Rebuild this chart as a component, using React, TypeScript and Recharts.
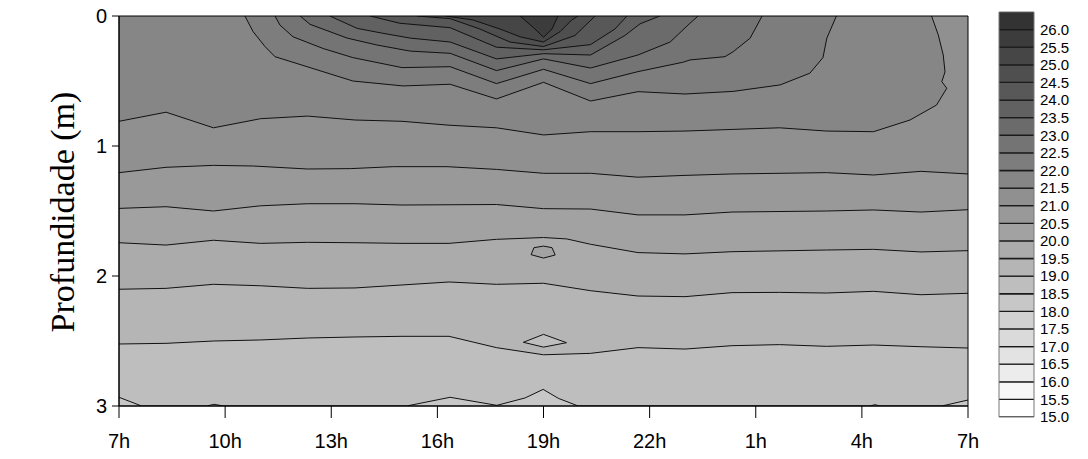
import React from "react";
import { ComposedChart, Area, XAxis, YAxis, CartesianGrid, ReferenceArea } from "recharts";

// time axis: hours after 07:00, labelled with clock hours
const hourTicks = [0, 3, 6, 9, 12, 15, 18, 21, 24];
const hourLabels = ["7h", "10h", "13h", "16h", "19h", "22h", "1h", "4h", "7h"];
const depthTicks = [0, 1, 2, 3];

// isotherm levels shown in the legend and the grey shade of the band above each one
const levels = [15.0, 15.5, 16.0, 16.5, 17.0, 17.5, 18.0, 18.5, 19.0, 19.5, 20.0, 20.5, 21.0, 21.5, 22.0, 22.5, 23.0, 23.5, 24.0, 24.5, 25.0, 25.5, 26.0];
const shades = ["#FFFFFF", "#F6F6F6", "#ECECEC", "#E3E3E3", "#DADADA", "#D1D1D1", "#C7C7C7", "#BEBEBE", "#B5B5B5", "#ABABAB", "#A2A2A2", "#999999", "#909090", "#868686", "#7D7D7D", "#747474", "#6B6B6B", "#616161", "#585858", "#4F4F4F", "#464646", "#3C3C3C", "#333333"];

// isotherm depth (m) along time (h); d = 3 or 0 where the line runs on the frame
const iso185 = [{ t: 0, d: 2.933 }, { t: 0.64, d: 3 }, { t: 2.48, d: 3 }, { t: 2.69, d: 2.987 }, { t: 2.95, d: 3 }, { t: 8.13, d: 3 }, { t: 9.36, d: 2.933 }, { t: 10.68, d: 2.995 }, { t: 11.48, d: 2.938 }, { t: 11.99, d: 2.872 }, { t: 12.42, d: 2.941 }, { t: 12.98, d: 3 }, { t: 21.23, d: 3 }, { t: 21.37, d: 2.99 }, { t: 21.51, d: 3 }, { t: 23.26, d: 3 }, { t: 24, d: 2.954 }];
const iso190 = [{ t: 0, d: 2.523 }, { t: 1.33, d: 2.518 }, { t: 2.67, d: 2.5 }, { t: 4, d: 2.492 }, { t: 5.33, d: 2.477 }, { t: 6.67, d: 2.469 }, { t: 8, d: 2.464 }, { t: 9.33, d: 2.464 }, { t: 10.67, d: 2.551 }, { t: 12, d: 2.606 }, { t: 13.33, d: 2.595 }, { t: 14.67, d: 2.551 }, { t: 16, d: 2.562 }, { t: 17.33, d: 2.536 }, { t: 18.67, d: 2.528 }, { t: 20, d: 2.541 }, { t: 21.33, d: 2.531 }, { t: 22.67, d: 2.544 }, { t: 24, d: 2.554 }];
const iso195 = [{ t: 0, d: 2.102 }, { t: 1.33, d: 2.095 }, { t: 2.67, d: 2.064 }, { t: 4, d: 2.075 }, { t: 5.33, d: 2.095 }, { t: 6.67, d: 2.092 }, { t: 8, d: 2.069 }, { t: 9.33, d: 2.046 }, { t: 10.67, d: 2.064 }, { t: 12, d: 2.056 }, { t: 13.33, d: 2.113 }, { t: 14.67, d: 2.154 }, { t: 16, d: 2.159 }, { t: 17.33, d: 2.128 }, { t: 18.67, d: 2.126 }, { t: 20, d: 2.131 }, { t: 21.33, d: 2.118 }, { t: 22.67, d: 2.144 }, { t: 24, d: 2.133 }];
const iso200 = [{ t: 0, d: 1.744 }, { t: 1.33, d: 1.762 }, { t: 2.67, d: 1.725 }, { t: 4, d: 1.749 }, { t: 5.33, d: 1.741 }, { t: 6.67, d: 1.744 }, { t: 8, d: 1.749 }, { t: 9.33, d: 1.749 }, { t: 10.67, d: 1.718 }, { t: 12, d: 1.704 }, { t: 12.66, d: 1.715 }, { t: 13.33, d: 1.756 }, { t: 14.67, d: 1.82 }, { t: 16, d: 1.83 }, { t: 17.33, d: 1.813 }, { t: 20, d: 1.8 }, { t: 21.33, d: 1.795 }, { t: 22.67, d: 1.815 }, { t: 24, d: 1.805 }];
const iso205 = [{ t: 0, d: 1.48 }, { t: 1.33, d: 1.467 }, { t: 2.67, d: 1.5 }, { t: 4, d: 1.46 }, { t: 5.33, d: 1.444 }, { t: 6.67, d: 1.444 }, { t: 8, d: 1.454 }, { t: 10.67, d: 1.45 }, { t: 12, d: 1.482 }, { t: 13.33, d: 1.485 }, { t: 14.67, d: 1.53 }, { t: 16, d: 1.53 }, { t: 17.33, d: 1.508 }, { t: 20, d: 1.5 }, { t: 21.33, d: 1.492 }, { t: 22.67, d: 1.508 }, { t: 24, d: 1.49 }];
const iso210 = [{ t: 0, d: 1.205 }, { t: 1.33, d: 1.164 }, { t: 2.67, d: 1.149 }, { t: 3.8, d: 1.154 }, { t: 5.33, d: 1.177 }, { t: 6.55, d: 1.174 }, { t: 7.76, d: 1.159 }, { t: 9.27, d: 1.159 }, { t: 10.67, d: 1.18 }, { t: 12, d: 1.21 }, { t: 13.33, d: 1.21 }, { t: 14.67, d: 1.24 }, { t: 16, d: 1.226 }, { t: 17.33, d: 1.215 }, { t: 20, d: 1.205 }, { t: 21.33, d: 1.223 }, { t: 22.67, d: 1.195 }, { t: 24, d: 1.215 }];
const iso215 = [{ t: 0, d: 0.81 }, { t: 1.33, d: 0.74 }, { t: 2.67, d: 0.86 }, { t: 4, d: 0.79 }, { t: 5.33, d: 0.77 }, { t: 6.67, d: 0.8 }, { t: 8, d: 0.81 }, { t: 9.33, d: 0.84 }, { t: 10.67, d: 0.86 }, { t: 12, d: 0.915 }, { t: 13.33, d: 0.89 }, { t: 14.67, d: 0.89 }, { t: 16, d: 0.885 }, { t: 18.67, d: 0.86 }, { t: 20, d: 0.885 }, { t: 21.33, d: 0.89 }, { t: 22.36, d: 0.8 }, { t: 23.11, d: 0.685 }, { t: 23.4, d: 0.556 }, { t: 23.26, d: 0.505 }, { t: 23.35, d: 0.43 }, { t: 23.3, d: 0.3 }, { t: 23.16, d: 0.146 }, { t: 22.97, d: 0 }];
const iso220 = [{ t: 3.56, d: 0 }, { t: 3.79, d: 0.12 }, { t: 4.13, d: 0.236 }, { t: 4.41, d: 0.313 }, { t: 5.4, d: 0.397 }, { t: 6.61, d: 0.5 }, { t: 8.03, d: 0.538 }, { t: 9.36, d: 0.525 }, { t: 10.67, d: 0.638 }, { t: 12, d: 0.51 }, { t: 13.33, d: 0.654 }, { t: 14.67, d: 0.582 }, { t: 16, d: 0.6 }, { t: 17.36, d: 0.58 }, { t: 18.69, d: 0.53 }, { t: 19.53, d: 0.44 }, { t: 19.9, d: 0.32 }, { t: 20.01, d: 0.17 }, { t: 20.28, d: 0 }];
const iso225 = [{ t: 4.41, d: 0 }, { t: 4.55, d: 0.07 }, { t: 4.92, d: 0.16 }, { t: 5.77, d: 0.25 }, { t: 6.61, d: 0.32 }, { t: 8, d: 0.397 }, { t: 9.36, d: 0.39 }, { t: 10.67, d: 0.52 }, { t: 12, d: 0.41 }, { t: 13.33, d: 0.52 }, { t: 14.67, d: 0.428 }, { t: 15.94, d: 0.356 }, { t: 16.14, d: 0.338 }, { t: 17.13, d: 0.313 }, { t: 17.36, d: 0.275 }, { t: 17.84, d: 0.171 }, { t: 18.18, d: 0 }];
const iso230 = [{ t: 5.12, d: 0 }, { t: 5.4, d: 0.064 }, { t: 6.45, d: 0.17 }, { t: 7.29, d: 0.223 }, { t: 8.23, d: 0.27 }, { t: 9.36, d: 0.287 }, { t: 10.67, d: 0.42 }, { t: 12, d: 0.33 }, { t: 13.33, d: 0.4 }, { t: 14.67, d: 0.3 }, { t: 15.58, d: 0.2 }, { t: 16.14, d: 0.056 }, { t: 16.37, d: 0 }];
const iso235 = [{ t: 5.96, d: 0 }, { t: 6.73, d: 0.095 }, { t: 7.46, d: 0.133 }, { t: 8.23, d: 0.17 }, { t: 9.36, d: 0.2 }, { t: 10.67, d: 0.33 }, { t: 12, d: 0.29 }, { t: 13.33, d: 0.3 }, { t: 14.3, d: 0.15 }, { t: 14.73, d: 0.06 }, { t: 15.29, d: 0 }];
const iso240 = [{ t: 7.1, d: 0 }, { t: 7.94, d: 0.056 }, { t: 9.36, d: 0.09 }, { t: 10.67, d: 0.24 }, { t: 12, d: 0.26 }, { t: 13.33, d: 0.22 }, { t: 14.02, d: 0.1 }, { t: 14.36, d: 0 }];
const iso245 = [{ t: 8.42, d: 0 }, { t: 9.36, d: 0.02 }, { t: 10.2, d: 0.1 }, { t: 11.05, d: 0.2 }, { t: 12, d: 0.235 }, { t: 12.89, d: 0.15 }, { t: 13.46, d: 0 }];
const iso250 = [{ t: 9.22, d: 0 }, { t: 10, d: 0.03 }, { t: 10.77, d: 0.1 }, { t: 11.34, d: 0.16 }, { t: 12, d: 0.2 }, { t: 12.47, d: 0.12 }, { t: 12.8, d: 0.03 }, { t: 12.98, d: 0 }];
const iso255 = [{ t: 11.34, d: 0 }, { t: 11.76, d: 0.1 }, { t: 12, d: 0.164 }, { t: 12.24, d: 0.1 }, { t: 12.41, d: 0 }];

// small closed isotherms near 19h: [upper, lower] depth
const pocket200 = [{ t: 11.65, r: [1.836, 1.836] }, { t: 11.73, r: [1.782, 1.842] }, { t: 12, r: [1.77, 1.862] }, { t: 12.24, r: [1.782, 1.845] }, { t: 12.33, r: [1.838, 1.838] }];
const pocket190 = [{ t: 11.43, r: [2.51, 2.51] }, { t: 12, r: [2.449, 2.547] }, { t: 12.65, r: [2.513, 2.513] }];

const isotherms = [
  { level: 18.5, points: iso185 },
  { level: 19.0, points: iso190 },
  { level: 19.5, points: iso195 },
  { level: 20.0, points: iso200 },
  { level: 20.5, points: iso205 },
  { level: 21.0, points: iso210 },
  { level: 21.5, points: iso215 },
  { level: 22.0, points: iso220 },
  { level: 22.5, points: iso225 },
  { level: 23.0, points: iso230 },
  { level: 23.5, points: iso235 },
  { level: 24.0, points: iso240 },
  { level: 24.5, points: iso245 },
  { level: 25.0, points: iso250 },
  { level: 25.5, points: iso255 },
];

const shadeOf = (level: number) => shades[levels.indexOf(level)];

const sans = "'Liberation Sans', Arial, sans-serif";
const LINE = "#111";

function DepthLabel() {
  return (
    <text
      x={62}
      y={212}
      transform="rotate(-90 62 212)"
      textAnchor="middle"
      dominantBaseline="central"
      fontFamily="'Liberation Serif', 'Times New Roman', serif"
      fontSize={34}
      fill="#000"
    >
      Profundidade (m)
    </text>
  );
}

// colour key: one filled box per half-degree band, labelled at the band edges
function Legend() {
  return (
    <ComposedChart width={98} height={459} margin={{ top: 12, right: 0, bottom: 42, left: 9 }}>
      <XAxis type="number" dataKey="x" domain={[0, 1]} hide allowDataOverflow />
      <YAxis
        orientation="right"
        type="number"
        domain={[15, 26.5]}
        ticks={levels}
        interval={0}
        width={54}
        axisLine={false}
        tickLine={false}
        tickSize={0}
        tickMargin={6}
        tickFormatter={(v: number) => v.toFixed(1)}
        tick={{ fill: "#000", fontSize: 15, fontFamily: sans }}
        allowDataOverflow
      />
      {levels.map((lv, i) => (
        <Area
          key={lv}
          data={[{ x: 0, r: [lv, lv + 0.5] }, { x: 1, r: [lv, lv + 0.5] }]}
          dataKey="r"
          type="linear"
          fill={shades[i]}
          fillOpacity={1}
          stroke="#1a1a1a"
          strokeWidth={1.3}
          dot={false}
          activeDot={false}
          isAnimationActive={false}
        />
      ))}
      <ReferenceArea x1={0} x2={1} y1={15} y2={26.5} fill="none" stroke="#777" strokeWidth={1} ifOverflow="visible" />
    </ComposedChart>
  );
}

export default function App() {
  return (
    <div style={{ position: "absolute", left: 0, top: 0, width: 1088, height: 459, background: "#fff" }}>
      <div style={{ position: "absolute", left: 0, top: 0 }}>
        <ComposedChart width={990} height={459} margin={{ top: 16, right: 22, bottom: 0, left: 59 }}>
          <CartesianGrid horizontal={false} vertical={false} fill={shadeOf(18.0)} fillOpacity={1} />
          <XAxis
            type="number"
            dataKey="t"
            domain={[0, 24]}
            ticks={hourTicks}
            interval={0}
            allowDataOverflow
            height={53}
            stroke="#000"
            tickSize={12}
            tickMargin={16}
            tickFormatter={(v: number) => hourLabels[hourTicks.indexOf(v)]}
            tick={{ fill: "#000", fontSize: 20, fontFamily: sans }}
          />
          <YAxis
            type="number"
            domain={[0, 3]}
            reversed
            ticks={depthTicks}
            interval={0}
            allowDataOverflow
            width={60}
            stroke="#000"
            tickSize={7}
            tickMargin={5}
            tick={{ fill: "#000", fontSize: 20, fontFamily: sans }}
            label={() => <DepthLabel />}
          />
          {isotherms.map((iso) => (
            <Area
              key={iso.level}
              data={iso.points}
              dataKey="d"
              type="linear"
              baseValue={0}
              fill={shadeOf(iso.level)}
              fillOpacity={1}
              stroke={LINE}
              strokeWidth={1}
              dot={false}
              activeDot={false}
              isAnimationActive={false}
            />
          ))}
          <Area data={pocket200} dataKey="r" type="linear" fill={shadeOf(20.0)} fillOpacity={1} stroke={LINE} strokeWidth={1} dot={false} activeDot={false} isAnimationActive={false} />
          <Area data={pocket190} dataKey="r" type="linear" fill={shadeOf(18.5)} fillOpacity={1} stroke={LINE} strokeWidth={1} dot={false} activeDot={false} isAnimationActive={false} />
          <ReferenceArea x1={0} x2={24} y1={0} y2={3} fill="none" stroke="#000" strokeWidth={1} ifOverflow="visible" />
        </ComposedChart>
      </div>
      <div style={{ position: "absolute", left: 990, top: 0 }}>
        <Legend />
      </div>
    </div>
  );
}
